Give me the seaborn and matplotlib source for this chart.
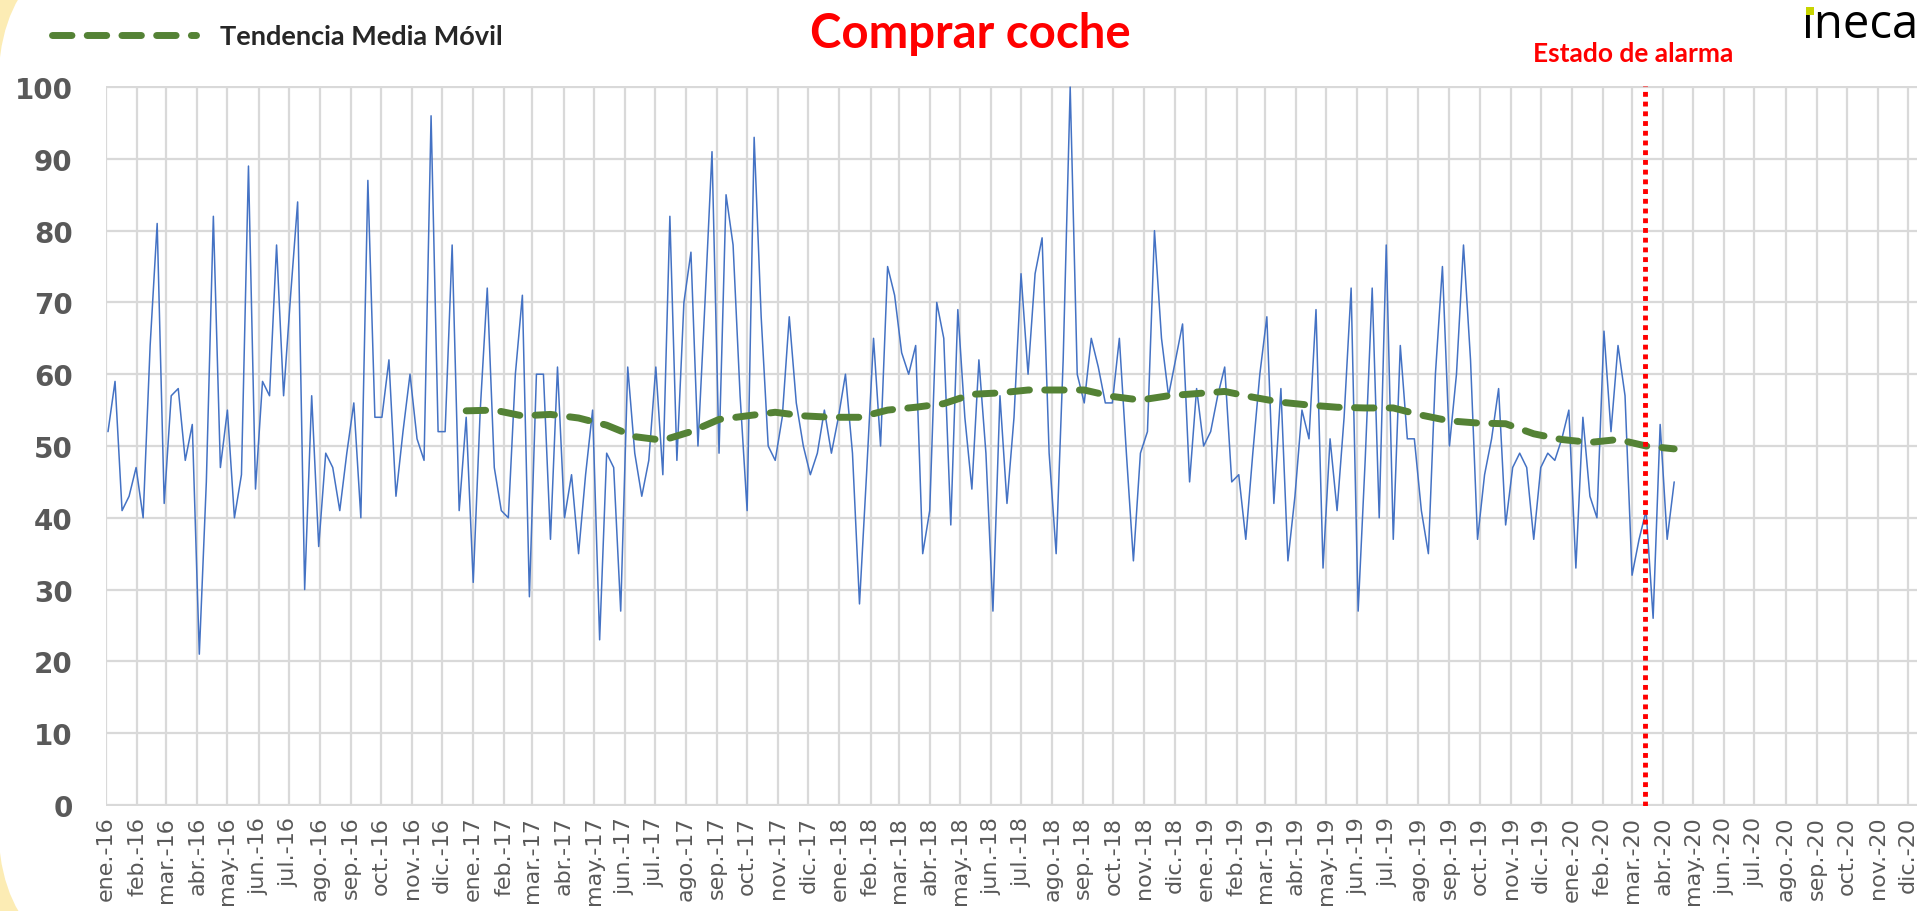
import pandas as pd
import matplotlib
matplotlib.use("Agg")
import matplotlib.pyplot as plt
import matplotlib.dates as mdates
from matplotlib.patches import Rectangle, FancyBboxPatch
from matplotlib.transforms import IdentityTransform
import seaborn as sns

# Datos semanales (Google Trends), desde la semana del 3-ene-2016
inicio_semanas = "2016-01-03"
busquedas = [
    52, 59, 41, 43, 47, 40, 64, 81, 42, 57, 58, 48, 53, 21, 45, 82, 47, 55, 40, 46,
    89, 44, 59, 57, 78, 57, 71, 84, 30, 57, 36, 49, 47, 41, 49, 56, 40, 87, 54, 54,
    62, 43, 52, 60, 51, 48, 96, 52, 52, 78, 41, 54, 31, 55, 72, 47, 41, 40, 60, 71,
    29, 60, 60, 37, 61, 40, 46, 35, 46, 55, 23, 49, 47, 27, 61, 49, 43, 48, 61, 46,
    82, 48, 70, 77, 50, 70, 91, 49, 85, 78, 57, 41, 93, 68, 50, 48, 54, 68, 56, 50,
    46, 49, 55, 49, 54, 60, 49, 28, 46, 65, 50, 75, 71, 63, 60, 64, 35, 41, 70, 65,
    39, 69, 54, 44, 62, 49, 27, 57, 42, 54, 74, 60, 74, 79, 49, 35, 62, 100, 60, 56,
    65, 61, 56, 56, 65, 49, 34, 49, 52, 80, 65, 57, 62, 67, 45, 58, 50, 52, 57, 61,
    45, 46, 37, 49, 60, 68, 42, 58, 34, 43, 55, 51, 69, 33, 51, 41, 54, 72, 27, 48,
    72, 40, 78, 37, 64, 51, 51, 41, 35, 60, 75, 50, 60, 78, 62, 37, 46, 51, 58, 39,
    47, 49, 47, 37, 47, 49, 48, 51, 55, 33, 54, 43, 40, 66, 52, 64, 57, 32, 37, 41,
    26, 53, 37, 45,
]

# Tendencia media móvil (cada 4 semanas, desde la semana 52)
media_movil = [
    54.9, 55.0, 54.2, 54.4, 53.9, 52.9, 51.3, 50.8, 52.0, 53.7,
    54.2, 54.7, 54.2, 54.0, 54.0, 55.0, 55.4, 55.9, 57.2, 57.4,
    57.8, 57.8, 57.8, 56.9, 56.4, 57.0, 57.3, 57.6, 56.8, 56.1,
    55.7, 55.4, 55.3, 55.3, 54.3, 53.5, 53.2, 53.1, 51.7, 50.9,
    50.5, 50.9, 50.0, 49.6,
]

meses_es = ["ene.", "feb.", "mar.", "abr.", "may.", "jun.",
            "jul.", "ago.", "sep.", "oct.", "nov.", "dic."]
fecha_alarma = "2020-03-14"
titulo = "Comprar coche"

sns.set_style("white")
plt.rcParams["font.family"] = ["Lato", "DejaVu Sans"]

W, H = 1923, 912
fig = plt.figure(figsize=(W / 100, H / 100), dpi=100)

# fondo amarillo que asoma por las esquinas izquierdas
fig.add_artist(Rectangle((0, 0), W, H, transform=IdentityTransform(),
                         facecolor="#fcecb4", edgecolor="none", zorder=-3))
fig.add_artist(FancyBboxPatch((-2, -60), W + 300, H + 120,
                              boxstyle="round,pad=0,rounding_size=150",
                              transform=IdentityTransform(), facecolor="white",
                              edgecolor="none", zorder=-2))

ax = fig.add_axes([106 / W, 105 / H, (1917 - 106) / W, 720 / H])
ax.set_facecolor("white")

fechas = pd.date_range(inicio_semanas, periods=len(busquedas), freq="7D")
df = pd.DataFrame({"fecha": fechas, "valor": busquedas})
df_mm = pd.DataFrame({"fecha": fechas[51::4], "valor": media_movil})

sns.lineplot(data=df, x="fecha", y="valor", ax=ax, color="#4472c4", linewidth=1.1)
sns.lineplot(data=df_mm, x="fecha", y="valor", ax=ax, color="#548235",
             linewidth=5, label="Tendencia Media Móvil")
linea_mm = ax.lines[-1]
linea_mm.set_dashes((2.8, 2.2))
linea_mm.set_dash_capstyle("round")

ax.axvline(pd.Timestamp(fecha_alarma), color="#ff0000", linewidth=3.5,
           linestyle=(0, (1, 1)), zorder=5)

meses = pd.date_range("2016-01-01", "2020-12-01", freq="MS")
ax.set_xticks(mdates.date2num(meses))
ax.set_xticklabels([f"{meses_es[m.month - 1]}-{m.year % 100}" for m in meses],
                   rotation=90, fontsize=16, color="#595959", family="DejaVu Sans")
ax.set_xlim(mdates.date2num(pd.Timestamp("2016-01-01")),
            mdates.date2num(pd.Timestamp("2020-12-10")))
ax.set_ylim(-0.15, 100.15)
ax.set_yticks(range(0, 101, 10))
ax.set_yticklabels([str(v) for v in range(0, 101, 10)], fontsize=20,
                   fontweight="bold", color="#595959", family="DejaVu Sans")
ax.tick_params(axis="y", length=0, pad=24)
ax.tick_params(axis="x", length=0, pad=7)
ax.grid(True, color="#d9d9d9", linewidth=1.6)
ax.set_axisbelow(True)
ax.set_xlabel("")
ax.set_ylabel("")
for s in ax.spines.values():
    s.set_visible(False)

leg = ax.legend(loc="center left", bbox_to_anchor=(52 / W, 1 - 37 / H),
                bbox_transform=fig.transFigure, frameon=False, borderpad=0,
                borderaxespad=0, handlelength=5.3, handletextpad=0.9,
                prop={"family": "Lato", "weight": "bold", "size": 19.5})
for h in leg.get_lines():
    h.set_dashes((2.8, 2.2))
    h.set_dash_capstyle("round")

fig.text(970 / W, 1 - 34 / H, titulo, ha="center", va="center",
         fontsize=34, fontweight="bold", color="#ff0000")
fig.text(1633 / W, 1 - 54 / H, "Estado de alarma", ha="center", va="center",
         fontsize=19, fontweight="bold", color="#ff0000")

# logo
fig.text(1802 / W, 1 - 38 / H, "\u0131neca", ha="left", va="baseline",
         fontsize=34, color="black", family="Open Sans")
fig.add_artist(Rectangle((1806, H - 16), 8, 8, transform=IdentityTransform(),
                         facecolor="#c8d400", edgecolor="none", zorder=4))

fig.savefig("out.png", dpi=100, facecolor="white")
